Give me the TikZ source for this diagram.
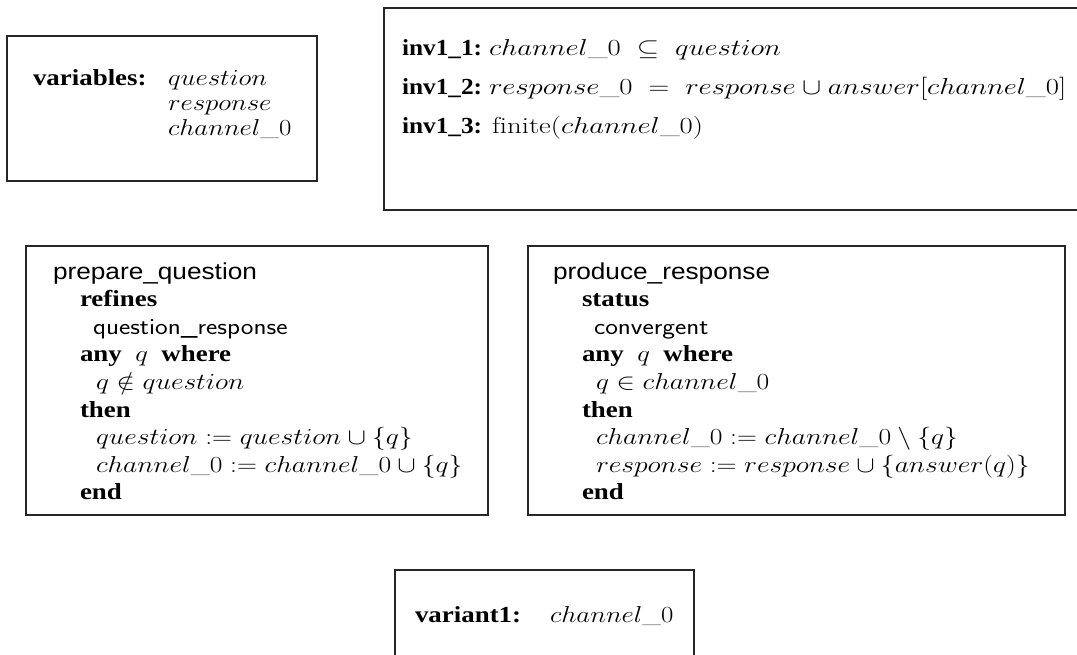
\RequirePackage{fix-cm}
\documentclass[tikz,border=0pt]{standalone}
\usepackage{fontspec}
\newfontfamily\serifT{Liberation Serif}
\newfontfamily\helv{Liberation Sans}
\newcommand\kw[1]{{\serifT\bfseries #1}}
\begin{document}
\begin{tikzpicture}[x=1pt,y=-1pt,
  font=\fontsize{23}{27.6}\selectfont,
  box/.style={draw=black!85, line width=1.2pt},
  txt/.style={anchor=base west, inner sep=0pt, outer sep=0pt, xscale=1.17},
  mth/.style={txt, xscale=1.2/1.17},
  imth/.style={txt, xscale=1.25/1.17},
  lbl/.style={txt, xscale=1.1/1.17},
  ttl/.style={txt, xscale=1.14/1.17}]
\clip (0,0) rectangle (1077,654);
\fill[white] (0,0) rectangle (1077,654);
% variables
\draw[box] (7,36) rectangle (317,181);
\node[txt] (v1) at (33,85) {\kw{variables:}};
\node[txt] (v2) at (168,85) {$question$};
\node[txt] (v3) at (168,110) {$response$};
\node[txt] (v4) at (168,135) {$channel\_0$};
% invariants
\draw[box] (384,8) rectangle (1095,210);
\node[lbl] (i1) at (402,55) {\kw{inv1\_1:}};
\node[imth] (i1m) at (489,55) {$channel\_0 \;\subseteq\; question$};
\node[lbl] (i2) at (402,94) {\kw{inv1\_2:}};
\node[imth] (i2m) at (489,94) {$response\_0 \;=\; response \cup answer[channel\_0]$};
\node[lbl] (i3) at (402,133) {\kw{inv1\_3:}};
\node[imth] (i3m) at (492,133) {$\mathrm{finite}(channel\_0)$};
% prepare_question
\draw[box] (26,246) rectangle (488,515);
\node[ttl] (p0) at (53,279) {\helv prepare\_question};
\node[txt] (p1) at (80,306.6) {\kw{refines}};
\node[txt] (p2) at (93,334.2) {\sffamily question\_response};
\node[txt] (p3) at (80,361.8) {\kw{any}\enspace$q$\enspace\kw{where}};
\node[mth] (p4) at (96,389.4) {$q \notin question$};
\node[txt] (p5) at (80,417) {\kw{then}};
\node[mth] (p6) at (96,444.6) {$question := question \cup \{q\}$};
\node[mth] (p7) at (96,472.2) {$channel\_0 := channel\_0 \cup \{q\}$};
\node[txt] (p8) at (80,499.8) {\kw{end}};
% produce_response
\draw[box] (528,246) rectangle (1065,515);
\node[ttl] (r0) at (553,279) {\helv produce\_response};
\node[txt] (r1) at (582,306.6) {\kw{status}};
\node[txt] (r2) at (594,334.2) {\sffamily convergent};
\node[txt] (r3) at (582,361.8) {\kw{any}\enspace$q$\enspace\kw{where}};
\node[mth] (r4) at (596,389.4) {$q \in channel\_0$};
\node[txt] (r5) at (582,417) {\kw{then}};
\node[mth] (r6) at (596,444.6) {$channel\_0 := channel\_0 \setminus \{q\}$};
\node[mth] (r7) at (596,472.2) {$response := response \cup \{answer(q)\}$};
\node[txt] (r8) at (582,499.8) {\kw{end}};
% variant
\draw[box] (395,570) rectangle (694,680);
\node[txt] (w1) at (415,622) {\kw{variant1:}};
\node[txt] (w2) at (550,622) {$channel\_0$};
\end{tikzpicture}
\end{document}
